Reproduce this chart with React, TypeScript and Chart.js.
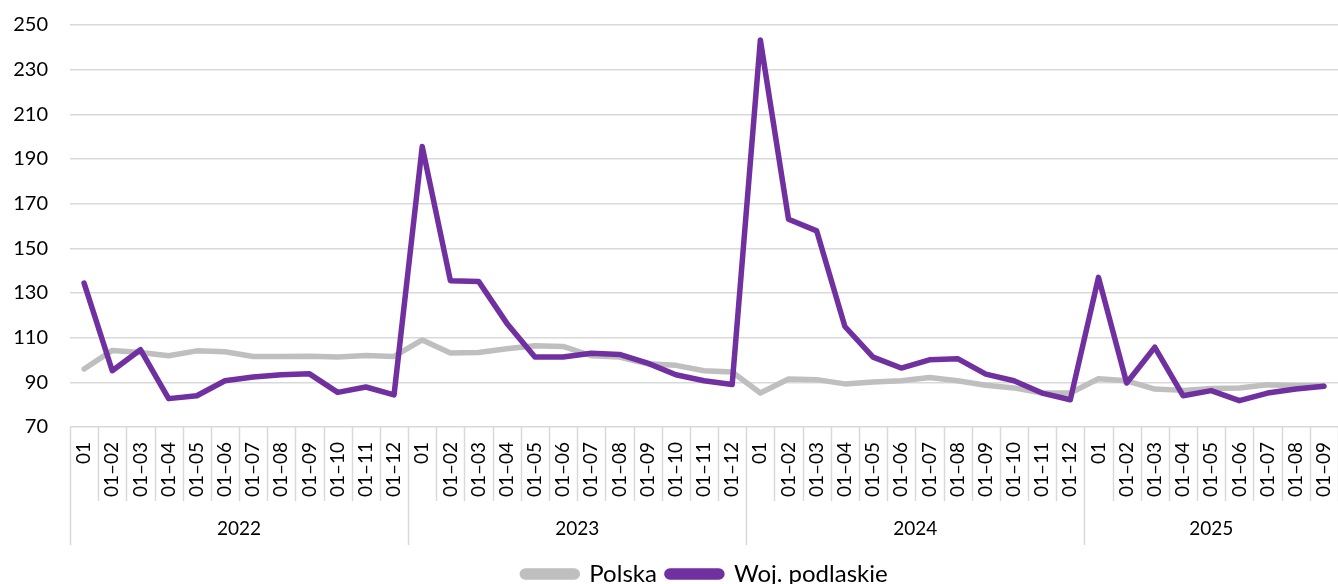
import React, { useEffect, useRef } from "react";
import { Chart, registerables } from "chart.js";

Chart.register(...registerables);

const MONTH_LABELS = ["01", "01–02", "01–03", "01–04", "01–05", "01–06", "01–07", "01–08", "01–09", "01–10", "01–11", "01–12"];
const YEARS = ["2022", "2023", "2024", "2025"];
const MONTHS_PER_YEAR = [12, 12, 12, 9];

const POLSKA = [
  96, 104.3, 103.4, 101.9, 104.1, 103.7, 101.6, 101.6, 101.7, 101.3, 102, 101.6,
  109, 103.1, 103.4, 105, 106.4, 106.1, 101.9, 101.3, 98.3, 97.6, 95.2, 94.6,
  85.2, 91.5, 91.2, 89.3, 90.1, 90.7, 92.2, 90.7, 88.7, 87.5, 85.2, 85.2,
  91.6, 90.7, 87, 86.4, 87.2, 87.5, 88.9, 88.5, 88.5,
];
const PODLASKIE = [
  134.4, 95.2, 104.6, 82.7, 84, 90.7, 92.4, 93.4, 93.8, 85.5, 87.9, 84.4,
  195.6, 135.5, 135.2, 116.5, 101.3, 101.3, 103, 102.5, 98.6, 93.4, 90.7, 89,
  243.3, 163, 157.8, 115, 101.3, 96.4, 100.1, 100.6, 93.7, 90.7, 85.2, 82.2,
  137, 89.7, 105.7, 84, 86.3, 81.8, 85.2, 87, 88.2,
];
const Y_MIN = 70;
const Y_MAX = 250;
const Y_STEP = 20;

const CATEGORIES: string[] = [];
MONTHS_PER_YEAR.forEach((n) => {
  for (let i = 0; i < n; i++) CATEGORIES.push(MONTH_LABELS[i]);
});

const FONT = "Lato, 'Noto Sans', sans-serif";
const GRID = "#d9d9d9";
const W = 1338;
const H = 584;

const zeroPadding = (scale: any) => {
  scale.paddingTop = 0;
  scale.paddingBottom = 0;
  scale.paddingLeft = 0;
  scale.paddingRight = 0;
};

const legendShift = {
  id: "legendShift",
  afterLayout(chart: any) {
    if (chart.legend) {
      chart.legend.left += 32;
      chart.legend.right += 32;
    }
  },
};

const groupPlugin = {
  id: "yearGroups",
  afterDraw(chart: any) {
    const x = chart.scales.x;
    const ctx = chart.ctx;
    const top = chart.chartArea.bottom;
    ctx.save();
    ctx.strokeStyle = GRID;
    ctx.lineWidth = 1.5;
    const yearStarts: number[] = [];
    let acc = 0;
    MONTHS_PER_YEAR.forEach((n) => {
      yearStarts.push(acc);
      acc += n;
    });
    for (let i = 0; i <= CATEGORIES.length; i++) {
      const px = Math.round(x.getPixelForValue(i - 0.5)) + 0.5;
      const isYear = yearStarts.includes(i);
      ctx.beginPath();
      ctx.moveTo(px, top);
      ctx.lineTo(px, top + (isYear ? 118 : 74));
      ctx.stroke();
    }
    ctx.fillStyle = "#000";
    ctx.font = `19px ${FONT}`;
    ctx.textAlign = "center";
    ctx.textBaseline = "middle";
    YEARS.forEach((yr, k) => {
      const start = yearStarts[k];
      const cx = x.getPixelForValue(start + (MONTHS_PER_YEAR[k] - 1) / 2);
      ctx.fillText(yr, cx, top + 102);
    });
    ctx.restore();
  },
};

export default function App() {
  const ref = useRef<HTMLCanvasElement>(null);
  useEffect(() => {
    document.body.style.margin = "0";
    document.body.style.overflow = "hidden";
    const chart = new Chart(ref.current!, {
      type: "line",
      data: {
        labels: CATEGORIES,
        datasets: [
          {
            label: "Polska",
            data: POLSKA,
            borderColor: "#bfbfbf",
            backgroundColor: "#bfbfbf",
            borderWidth: 5.5,
            pointRadius: 0,
            tension: 0,
            borderCapStyle: "round",
            borderJoinStyle: "round",
            order: 1,
          },
          {
            label: "Woj. podlaskie",
            data: PODLASKIE,
            borderColor: "#7030a0",
            backgroundColor: "#7030a0",
            borderWidth: 5.5,
            pointRadius: 0,
            tension: 0,
            borderCapStyle: "round",
            borderJoinStyle: "round",
            order: 0,
          },
        ],
      },
      options: {
        animation: false,
        responsive: false,
        layout: { padding: { left: 8, right: 0, top: 25, bottom: -12 } },
        plugins: {
          tooltip: { enabled: false },
          legend: {
            position: "bottom",
            labels: {
              font: { family: FONT, size: 24 },
              color: "#000",
              boxWidth: 55,
              boxHeight: 6,
              useBorderRadius: true,
              borderRadius: 3,
              padding: 10,
              sort: (a: any, b: any) => a.datasetIndex - b.datasetIndex,
            },
          },
        },
        scales: {
          x: {
            type: "category",
            offset: true,
            grid: { display: false, drawTicks: false },
            border: { display: false },
            ticks: {
              autoSkip: false,
              maxRotation: 90,
              minRotation: 90,
              padding: 15,
              color: "#000",
              font: { family: FONT, size: 19 },
            },
            afterFit(scale: any) {
              scale.height = 125;
              zeroPadding(scale);
            },
          },
          y: {
            min: Y_MIN,
            max: Y_MAX,
            ticks: {
              stepSize: Y_STEP,
              padding: 22,
              color: "#000",
              font: { family: FONT, size: 20 },
            },
            grid: { color: GRID, lineWidth: 1.5, drawTicks: false },
            border: { display: false },
            afterFit(scale: any) {
              scale.width = 62;
              zeroPadding(scale);
            },
          },
        },
      },
      plugins: [groupPlugin, legendShift],
    });
    return () => chart.destroy();
  }, []);
  return (
    <div style={{ position: "fixed", left: 0, top: 0, width: W, height: H }}>
      <canvas ref={ref} width={W} height={H} style={{ width: W, height: H, display: "block" }} />
    </div>
  );
}
